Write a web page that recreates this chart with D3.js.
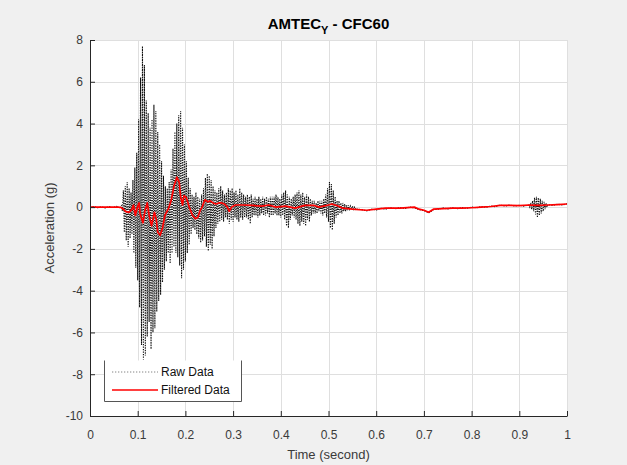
<!DOCTYPE html>
<html><head><meta charset="utf-8">
<script src="https://cdn.jsdelivr.net/npm/d3@7"></script>
<style>
body{margin:0;background:#f0f0f0;}
text{font-family:"Liberation Sans",Arial,Helvetica,sans-serif;}
</style>
</head><body>
<svg id="chart" width="627" height="465"></svg>
<script>
// ---------- data ----------
const xTicks = [0,0.1,0.2,0.3,0.4,0.5,0.6,0.7,0.8,0.9,1];
const xTickLabels = ["0","0.1","0.2","0.3","0.4","0.5","0.6","0.7","0.8","0.9","1"];
const yTicks = [-10,-8,-6,-4,-2,0,2,4,6,8];
const yTickLabels = ["-10","-8","-6","-4","-2","0","2","4","6","8"];
const seriesNames = ["Raw Data","Filtered Data"];

// raw data, sampled segments (start time, sample step, values)
const rawHeadT0 = 0, rawHeadDt = 0.008;
const rawHead = [0.00,0.03,-0.03,0.02,-0.04,0.03,-0.02,0.04,-0.05];
const rawBurstT0 = 0.066, rawBurstDt = 0.002;
const rawBurst = [
 0.1,-0.2,0.8,-1.2,1.0,-1.6,1.2,-1.9,0.9,-1.5,
 0.7,-1.3,1.3,-2.2,1.9,-2.9,2.6,-3.5,4.2,-4.8,
 6.2,-6.6,7.7,-7.3,6.8,-7.1,5.1,-6.2,4.5,-5.5,
 3.8,-6.8,4.2,-6.0,4.9,-5.8,4.6,-5.0,3.6,-4.5,
 3.0,-4.2,2.2,-3.6,1.5,-3.0,1.0,-2.6,0.9,-2.2,
 1.2,-2.7,1.8,-2.2,2.8,-1.9,3.6,-2.2,4.0,-2.4,
 4.4,-2.8,4.6,-3.4,3.8,-3.0,3.0,-2.6,2.2,-2.2,
 1.4,-1.8,0.9,-1.3,0.6,-1.0,0.5,-1.1,0.7,-1.3,
 0.5,-1.5,0.4,-1.7,0.6,-1.6,0.9,-1.4,1.4,-1.9,
 1.6,-2.1,1.5,-1.8,1.3,-2.0,1.0,-1.4,0.8,-1.0,
 0.7,-0.8,0.9,-0.7,1.0,-0.6,0.8,-0.7,0.6,-0.5,
 0.7,-0.6,0.9,-0.8,0.8,-0.6,0.9,-0.7,0.7,-0.5,
 0.8,-0.6,0.6,-0.7,0.9,-0.5,0.7,-0.6,0.6,-0.5,
 0.5,-0.5,0.6,-0.6,0.5,-0.8,0.6,-0.5,0.4,-0.4,
 0.5,-0.4,0.4,-0.5,0.5,-0.4,0.4,-0.3,0.5,-0.4,
 0.4,-0.4,0.5,-0.3,0.4,-0.5,0.5,-0.4,0.5,-0.4,
 0.5,-0.3,0.6,-0.4,0.5,-0.4,0.4,-0.5,0.6,-0.4,
 0.7,-0.6,0.8,-0.9,0.6,-1.0,0.5,-0.6,0.4,-0.4,
 0.5,-0.5,0.6,-0.6,0.7,-0.8,0.8,-0.9,0.6,-0.7,
 0.7,-0.8,0.5,-0.9,0.6,-0.6,0.5,-0.7,0.4,-0.4,
 0.3,-0.3,0.3,-0.3,0.2,-0.3,0.3,-0.2,0.3,-0.3,
 0.3,-0.4,0.4,-0.3,0.6,-0.5,0.9,-0.7,1.2,-1.0,
 1.1,-1.1,0.8,-0.8,0.5,-0.5,0.3,-0.4,0.3,-0.3,
 0.2,-0.3,0.2,-0.2,0.15,-0.2,0.1,-0.15,0.1,-0.1,
 0.05,-0.1,0.05,-0.1,0.0,-0.1,-0.05,-0.1];
const rawTailT0 = 0.57, rawTailDt = 0.01;
const rawTail = [-0.12,-0.18,-0.1,-0.14,-0.06,-0.1,-0.03,-0.08,-0.02,-0.07,
 0.0,-0.04,-0.12,-0.16,-0.28,-0.12,-0.1,-0.04,-0.09,-0.03,
 -0.08,-0.02,-0.06,0.0,-0.04,0.03,-0.01,0.05,0.02,0.1,
 0.05,0.1,0.05,0.09,0.05];
const rawSpikeT0 = 0.92, rawSpikeDt = 0.002;
const rawSpike = [0.1,0.0,0.2,-0.1,0.3,-0.2,0.45,-0.35,0.5,-0.5,0.45,-0.4,0.4,-0.3,0.3,-0.2,0.25,-0.1,0.2,0.0,0.12];
const rawEndT0 = 0.97, rawEndDt = 0.01;
const rawEnd = [0.08,0.14,0.1,0.16];

// filtered (CFC60) data
const filtT = [0,0.06,0.065,0.07,0.075,0.082,0.088,0.091,0.095,0.1,0.103,0.105,0.111,0.115,0.12,0.124,0.129,0.135,0.139,0.142,0.147,0.152,0.157,0.164,0.17,0.176,0.182,0.187,0.19,0.194,0.197,0.202,0.208,0.215,0.221,0.226,0.231,0.235,0.241,0.247,0.252,0.258,0.264,0.27,0.276,0.282,0.288,0.292,0.297,0.305,0.32,0.34,0.36,0.375,0.39,0.41,0.43,0.45,0.47,0.48,0.5,0.507,0.52,0.53,0.55,0.58,0.6,0.62,0.65,0.68,0.69,0.7,0.71,0.72,0.74,0.76,0.78,0.8,0.82,0.84,0.86,0.88,0.9,0.92,0.94,0.96,0.98,1.0];
const filtV = [0,0,-0.02,-0.1,-0.22,-0.25,-0.1,0.1,-0.4,0.05,0.2,-0.3,-0.75,-0.2,0.2,-0.4,-0.9,-0.25,-0.6,-1.2,-1.35,-1.0,-0.4,-0.1,0.3,1.0,1.43,1.2,0.5,0.1,0.55,0.45,0.0,-0.4,-0.55,-0.5,-0.15,0.0,0.35,0.25,0.3,0.2,0.15,0.2,0.2,0.15,0.0,-0.2,0.0,0.1,0.1,0.08,0.05,0.1,0.0,0.05,-0.05,0.08,0.08,0.0,0.1,0.15,0.05,-0.05,-0.1,-0.15,-0.1,-0.05,-0.05,0.0,-0.1,-0.15,-0.25,-0.1,-0.07,-0.05,-0.05,-0.03,0.0,0.03,0.08,0.08,0.07,0.1,0.08,0.1,0.12,0.15];

// ---------- build ----------
function seg(t0, dt, vals){ return vals.map((v,i)=>[t0+i*dt, v]); }
const rawPts = [].concat(
  seg(rawHeadT0, rawHeadDt, rawHead),
  seg(rawBurstT0, rawBurstDt, rawBurst),
  seg(rawTailT0, rawTailDt, rawTail),
  seg(rawSpikeT0, rawSpikeDt, rawSpike),
  seg(rawEndT0, rawEndDt, rawEnd));
const filtPts = filtT.map((t,i)=>[t, filtV[i]]);

const svg = d3.select("#chart");
const L = 90, R = 567, T = 40, B = 416;
svg.append("rect").attr("width",627).attr("height",465).attr("fill","#f0f0f0");

const x = d3.scaleLinear().domain([0,1]).range([L,R]);
const y = d3.scaleLinear().domain([-10,8]).range([B,T]);

svg.append("rect").attr("x",L).attr("y",T).attr("width",R-L).attr("height",B-T).attr("fill","#fff");

// grid
const grid = svg.append("g").attr("stroke","#dfdfdf").attr("stroke-width",1);
grid.selectAll("line.gx").data(xTicks).join("line")
  .attr("x1",d=>Math.round(x(d))+0.5).attr("x2",d=>Math.round(x(d))+0.5)
  .attr("y1",T).attr("y2",B);
grid.selectAll("line.gy").data(yTicks).join("line")
  .attr("x1",L).attr("x2",R)
  .attr("y1",d=>Math.round(y(d))+0.5).attr("y2",d=>Math.round(y(d))+0.5);

svg.append("clipPath").attr("id","clip").append("rect")
  .attr("x",L).attr("y",T).attr("width",R-L).attr("height",B-T);

const line = d3.line().x(d=>x(d[0])).y(d=>y(d[1]));
const plot = svg.append("g").attr("clip-path","url(#clip)");
plot.append("path").datum(rawPts).attr("d",line)
  .attr("fill","none").attr("stroke","#111").attr("stroke-width",1.1)
  .attr("stroke-dasharray","1.3,1.2");
plot.append("path").datum(filtPts).attr("d",line)
  .attr("fill","none").attr("stroke","#ff0000").attr("stroke-width",1.7)
  .attr("stroke-linejoin","round");

// axes
const axColor = "#262626";
const gx = svg.append("g").attr("transform",`translate(0,${B})`)
  .call(d3.axisBottom(x).tickValues(xTicks).tickFormat((d,i)=>xTickLabels[i])
    .tickSizeInner(-5).tickSizeOuter(0).tickPadding(14));
const gy = svg.append("g").attr("transform",`translate(${L},0)`)
  .call(d3.axisLeft(y).tickValues(yTicks).tickFormat((d,i)=>yTickLabels[i])
    .tickSizeInner(-5).tickSizeOuter(0).tickPadding(7));
[gx,gy].forEach(g=>{
  g.select(".domain").attr("stroke",axColor);
  g.selectAll(".tick line").attr("stroke",axColor);
  g.selectAll(".tick text").attr("fill","#3a3a3a").attr("font-size",12)
    .style("font-family","'Liberation Sans',Arial,sans-serif");
});

// title
const title = svg.append("text").attr("x",(L+R)/2).attr("y",29)
  .attr("text-anchor","middle").attr("font-size",15).attr("font-weight","bold").attr("fill","#000");
title.append("tspan").text("AMTEC");
title.append("tspan").attr("font-size",11).attr("dy",5).text("Y");
title.append("tspan").attr("dy",-5).text(" - CFC60");

// axis labels
svg.append("text").attr("x",(L+R)/2).attr("y",459).attr("text-anchor","middle")
  .attr("font-size",13).attr("fill","#3a3a3a").text("Time (second)");
svg.append("text").attr("transform",`translate(54,${(T+B)/2}) rotate(-90)`)
  .attr("text-anchor","middle").attr("font-size",13).attr("fill","#3a3a3a").text("Acceleration (g)");

// legend
const lg = svg.append("g");
lg.append("rect").attr("x",104.5).attr("y",360.5).attr("width",137).attr("height",41).attr("fill","#fff");
lg.append("path").attr("d","M104.5,360.5V401.5H241.5V360.5").attr("fill","none").attr("stroke","#555").attr("stroke-width",1);
lg.append("line").attr("x1",112).attr("x2",158).attr("y1",372).attr("y2",372)
  .attr("stroke","#666").attr("stroke-width",0.8).attr("stroke-dasharray","1.3,1.7");
lg.append("line").attr("x1",112).attr("x2",158).attr("y1",390).attr("y2",390)
  .attr("stroke","#ff0000").attr("stroke-width",1.7);
lg.selectAll("text.lt").data(seriesNames).join("text")
  .attr("x",161).attr("y",(d,i)=>376+i*18).attr("font-size",12).attr("fill","#111").text(d=>d);
</script>
</body></html>
